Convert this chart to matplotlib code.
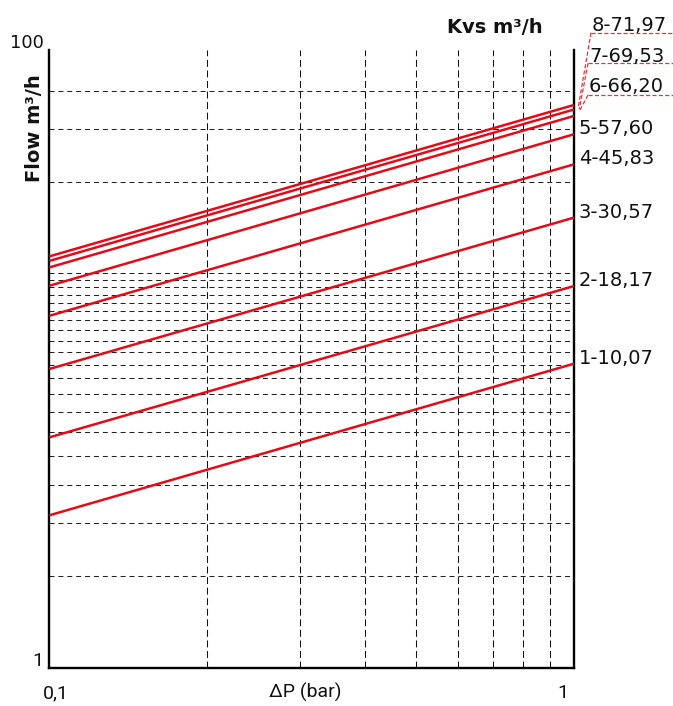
import matplotlib
matplotlib.use("Agg")
import matplotlib.pyplot as plt
from matplotlib.lines import Line2D

plt.rcParams['lines.scale_dashes'] = False

# ---- data ----
sizes = ["1", "2", "3", "4", "5", "6", "7", "8"]
kvs = [10.07, 18.17, 30.57, 45.83, 57.60, 66.20, 69.53, 71.97]
kvs_text = ["10,07", "18,17", "30,57", "45,83", "57,60", "66,20", "69,53", "71,97"]
dp = [0.1, 1.0]
flow_at_01 = [3.18, 5.75, 9.67, 14.49, 18.21, 20.93, 21.99, 22.76]
flow_at_1 = [10.07, 18.17, 30.57, 45.83, 57.60, 66.20, 69.53, 71.97]
x_grid = [0.2, 0.3, 0.4, 0.5, 0.6, 0.7, 0.8, 0.9]
y_grid = [2, 3, 4, 5, 6, 7, 8, 9, 10, 11, 12, 13, 14, 15, 16, 17, 18, 19, 20, 40, 60, 80]

W, H = 673, 706
RED = '#e30b17'

fig = plt.figure(figsize=(W / 100, H / 100), dpi=100)
L, R, T, B = 49.3, 574.0, 50.0, 667.5
ax = fig.add_axes([L / W, 1 - B / H, (R - L) / W, (B - T) / H])
ax.set_xscale('log')
ax.set_yscale('log')
ax.set_xlim(0.1, 1.0)
ax.set_ylim(1.0, 109.3)
ax.set_xticks([])
ax.set_yticks([])
ax.minorticks_off()
ax.tick_params(which='both', length=0, labelleft=False, labelbottom=False)
for s in ['left', 'bottom', 'right']:
    ax.spines[s].set_linewidth(1.7)
    ax.spines[s].set_color('black')
ax.spines['top'].set_visible(False)

for xv in x_grid:
    ax.axvline(xv, color='#111111', lw=0.75, dashes=(5, 2.6), zorder=1)
for yv in y_grid:
    ax.axhline(yv, color='#222222', lw=0.75, dashes=(3.6, 2.8), zorder=1)

for q0, q1 in zip(flow_at_01, flow_at_1):
    ax.plot(dp, [q0, q1], color=RED, lw=1.8, zorder=3, solid_capstyle='butt')


def P(x, y):
    return (x / W, 1 - y / H)


# right-side labels for sizes 1-5: placed at line ends
for i in range(5):
    ax.annotate(f"{sizes[i]}-{kvs_text[i]}", xy=(1.0, flow_at_1[i]), xytext=(5, 0),
                textcoords='offset pixels', ha='left', va='baseline',
                fontsize=14, family='DejaVu Sans', color='#111111',
                annotation_clip=False)

# labels for sizes 6-8: stacked at top with dashed underline and leader
top_labels = {5: (589, 92.3, 95.0, (580, 110)),
              6: (589, 62.3, 63.3, (579.3, 109)),
              7: (592, 30.7, 32.7, (578.3, 107))}
for i, (lx, base, uy, tip) in top_labels.items():
    fig.text(*P(lx, base), f"{sizes[i]}-{kvs_text[i]}", ha='left', va='baseline',
             fontsize=14, family='DejaVu Sans', color='#111111')
    x0, y0 = P(lx - 1, uy)
    x1, y1 = P(673, uy)
    fig.add_artist(Line2D([x0, x1], [y0, y1], transform=fig.transFigure,
                          color='#e6323c', lw=0.9, dashes=(3, 1.6)))
    xt, yt = P(*tip)
    fig.add_artist(Line2D([x0, xt], [y0, yt], transform=fig.transFigure,
                          color='#e6323c', lw=0.9, dashes=(3, 1.6)))

# titles / axis texts
fig.text(*P(495, 33.3), "Kvs m³/h", ha='center', va='baseline',
         fontsize=14, fontweight='bold', family='DejaVu Sans', color='#111111')
fig.text(*P(35, 128), "Flow m³/h", ha='center', va='center', rotation=90,
         fontsize=14, fontweight='bold', family='DejaVu Sans', color='#111111')
fig.text(*P(10, 48.5), "100", ha='left', va='baseline',
         fontsize=13, family='DejaVu Sans', color='#111111')
fig.text(*P(43, 666.5), "1", ha='right', va='baseline',
         fontsize=14, family='Roboto', color='#111111')
fig.text(*P(43, 698), "0,1", ha='left', va='baseline',
         fontsize=14, family='Roboto', color='#111111')
fig.text(*P(305, 698), "ΔP (bar)", ha='center', va='baseline',
         fontsize=14, family='Roboto', color='#111111')
fig.text(*P(563, 698), "1", ha='center', va='baseline',
         fontsize=14, family='Roboto', color='#111111')

fig.savefig("out.png", dpi=100)
